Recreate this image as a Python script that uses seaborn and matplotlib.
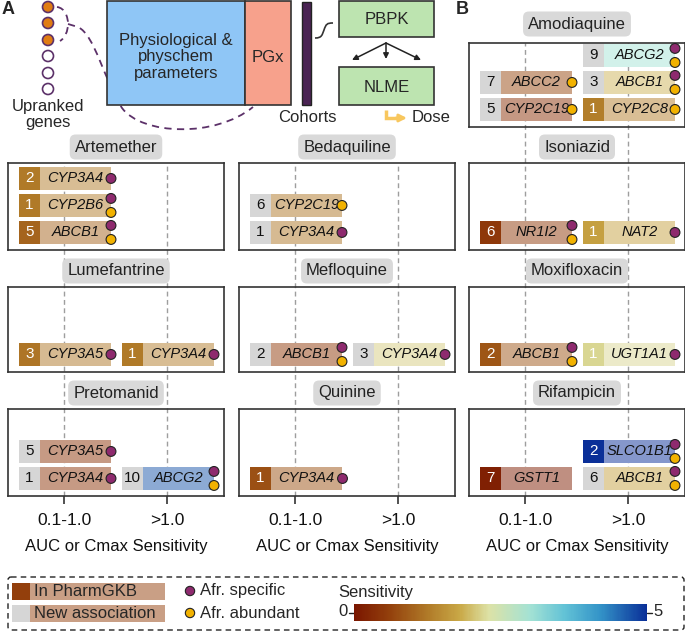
import numpy as np
import pandas as pd
import matplotlib
matplotlib.use("Agg")
import matplotlib as mpl
import matplotlib.pyplot as plt
import seaborn as sns
from matplotlib.colors import LinearSegmentedColormap, Normalize, to_rgb
from matplotlib.patches import Rectangle, FancyBboxPatch, Circle, PathPatch
from matplotlib.path import Path

sns.set_theme(style="white")
plt.rcParams['font.family'] = ['Liberation Sans', 'DejaVu Sans']

# ---------------- data ----------------
bins = ["0.1-1.0", ">1.0"]
drug = (["Artemether"] * 3 + ["Bedaquiline"] * 2 + ["Lumefantrine"] * 2 +
        ["Mefloquine"] * 2 + ["Pretomanid"] * 3 + ["Quinine"] +
        ["Amodiaquine"] * 5 + ["Isoniazid"] * 2 + ["Moxifloxacin"] * 2 +
        ["Rifampicin"] * 3)
sens_bin = [0, 0, 0, 0, 0, 0, 1, 0, 1, 0, 0, 1, 0,
            1, 0, 1, 0, 1, 0, 1, 0, 1, 0, 1, 1]
rank_slot = [2, 1, 0, 1, 0, 0, 0, 0, 0, 1, 0, 0, 0,
             2, 1, 1, 0, 0, 0, 0, 0, 0, 0, 1, 0]
gene = ["CYP3A4", "CYP2B6", "ABCB1", "CYP2C19", "CYP3A4", "CYP3A5", "CYP3A4",
        "ABCB1", "CYP3A4", "CYP3A5", "CYP3A4", "ABCG2", "CYP3A4",
        "ABCG2", "ABCC2", "ABCB1", "CYP2C19", "CYP2C8", "NR1I2", "NAT2",
        "ABCB1", "UGT1A1", "GSTT1", "SLCO1B1", "ABCB1"]
count = [2, 1, 5, 6, 1, 3, 1, 2, 3, 5, 1, 10, 1,
         9, 7, 3, 5, 1, 6, 1, 2, 1, 7, 2, 6]
in_pharmgkb = [1, 1, 1, 0, 0, 1, 1, 0, 0, 0, 0, 0, 1,
               0, 0, 0, 0, 1, 1, 1, 1, 1, 1, 1, 0]
afr_specific = [1, 1, 1, 0, 1, 1, 1, 1, 1, 1, 1, 1, 1,
                1, 0, 1, 0, 0, 1, 1, 1, 1, 0, 1, 1]
afr_abundant = [0, 1, 1, 1, 0, 0, 0, 1, 0, 0, 0, 1, 0,
                1, 1, 1, 1, 1, 1, 0, 1, 0, 0, 1, 1]
sensitivity = [1.25, 1.25, 1.0, 1.2, 1.2, 1.2, 1.25, 0.5, 2.1, 0.45, 0.45, 4.7, 0.8,
               3.0, 0.7, 1.9, 0.4, 1.3, 0.5, 1.7, 0.85, 2.2, 0.15, 5.0, 1.7]

df = pd.DataFrame(dict(drug=drug, bin=sens_bin, slot=rank_slot, gene=gene,
                       count=count, pgkb=in_pharmgkb, spec=afr_specific,
                       abund=afr_abundant, sens=sensitivity))

# ---------------- styling ----------------
cmap = LinearSegmentedColormap.from_list("sens", [
    (0.0, '#7a1600'), (0.12, '#93400c'), (0.25, '#b07a28'), (0.36, '#c9a846'),
    (0.46, '#dde2a6'), (0.6, '#a4e2d4'), (0.72, '#62c2d6'), (0.84, '#3494c8'),
    (1.0, '#0a2f98')])
norm = Normalize(0, 5)
GRAY = '#d6d6d6'
SPEC = '#8e2a6e'
ABUND = '#f2b200'
DARK = '#333333'


def light(c, f=0.5):
    r = np.array(to_rgb(c))
    return tuple(r * f + (1 - f))


W, H = 685, 631
fig = plt.figure(figsize=(6.85, 6.31), dpi=100)


def fax(x0, y0, x1, y1, **kw):
    return fig.add_axes([x0 / W, 1 - y1 / H, (x1 - x0) / W, (y1 - y0) / H], **kw)


col_x = [8, 239, 469]
col_w = 216
row_y = [(43, 127), (163, 250), (287, 372), (409, 496)]
panel_pos = {"Artemether": (0, 1), "Bedaquiline": (1, 1), "Amodiaquine": (2, 0),
             "Lumefantrine": (0, 2), "Mefloquine": (1, 2), "Isoniazid": (2, 1),
             "Pretomanid": (0, 3), "Quinine": (1, 3), "Moxifloxacin": (2, 2),
             "Rifampicin": (2, 3)}
XLIM = (-0.544, -0.544 + col_w / 103.0)
UNIT = 27.0
BAR_L, BAR_W, NUM_W, BAR_H = -0.437, 0.893, 0.204, 0.85

# background dashed guide lines per column
col_tops = [163, 163, 43]
for c in range(3):
    bg = fax(col_x[c], col_tops[c], col_x[c] + col_w, 496, zorder=0)
    bg.set_xlim(XLIM)
    bg.axis('off')
    for xv in range(len(bins)):
        bg.axvline(xv, color='#9e9e9e', lw=1.0, ls=(0, (3.5, 2.5)))

for name, (c, r) in panel_pos.items():
    y0, y1 = row_y[r]
    ax = fax(col_x[c], y0, col_x[c] + col_w, y1, zorder=2)
    ax.set_facecolor('none')
    sub = df[df.drug == name]
    dots = []
    for _, row in sub.iterrows():
        base = cmap(norm(row.sens))
        left = row.bin + BAR_L
        ax.barh(row.slot, BAR_W - NUM_W, left=left + NUM_W, height=BAR_H,
                color=light(base), edgecolor='none', zorder=2)
        ax.barh(row.slot, NUM_W, left=left, height=BAR_H,
                color=base if row.pgkb else GRAY, edgecolor='none', zorder=2)
        ax.text(left + NUM_W / 2, row.slot, str(row['count']), ha='center',
                va='center', fontsize=11,
                color='white' if row.pgkb else '#111111', zorder=3)
        ax.text(left + NUM_W + (BAR_W - NUM_W) / 2, row.slot, row.gene,
                ha='center', va='center', fontsize=10.5, style='italic',
                color='#111111', zorder=3)
        xe = left + BAR_W
        if row.spec and row.abund:
            dots += [(xe, row.slot + 0.26, 'spec'), (xe, row.slot - 0.26, 'abund')]
        elif row.spec:
            dots.append((xe, row.slot, 'spec'))
        elif row.abund:
            dots.append((xe, row.slot, 'abund'))
    if dots:
        dd = pd.DataFrame(dots, columns=['x', 'y', 'kind'])
        sns.scatterplot(data=dd, x='x', y='y', hue='kind',
                        palette={'spec': SPEC, 'abund': ABUND}, s=50,
                        edgecolor='#222222', linewidth=0.8, legend=False,
                        ax=ax, zorder=5, clip_on=False)
    ax.set_xlim(XLIM)
    ax.set_ylim(-0.65, -0.65 + (y1 - y0) / UNIT)
    ax.set_ylabel('')
    ax.set_yticks([])
    for sp in ax.spines.values():
        sp.set_visible(True)
        sp.set_color(DARK)
        sp.set_linewidth(1.2)
    off = 19 if r == 0 else 16
    ax.text(0.5, 1 + off / (y1 - y0), name, transform=ax.transAxes,
            ha='center', va='center', fontsize=12, color='#222222',
            bbox=dict(boxstyle='round,pad=0.3,rounding_size=0.35',
                      fc='#d9d9d9', ec='none'), zorder=6, clip_on=False)
    if r == 3:
        ax.set_xticks(range(len(bins)))
        ax.set_xticklabels(bins)
        ax.tick_params(axis='x', length=6, width=1.2, color=DARK, pad=6,
                       labelsize=12.5, labelcolor='#111111', bottom=True)
        ax.set_xlabel("AUC or Cmax Sensitivity", fontsize=12, labelpad=8,
                      color='#111111')
    else:
        ax.set_xticks([])
        ax.set_xlabel('')

# ---------------- overlay: diagram + legend ----------------
ov = fax(0, 0, W, H, zorder=1)
ov.set_facecolor('none')
ov.set_xlim(0, W)
ov.set_ylim(H, 0)
ov.axis('off')

PUR = '#5c3169'
ov.text(2, 10, "A", fontsize=13, fontweight='bold', ha='left', va='center')
ov.text(456, 10, "B", fontsize=13, fontweight='bold', ha='left', va='center')

for i, gy in enumerate([7, 23, 40, 56, 73, 89]):
    ov.add_patch(Circle((48, gy), 5.5, fc='#e07c12' if i < 3 else 'white',
                        ec=PUR, lw=1.2, zorder=4))
ov.text(48, 106, "Upranked", ha='center', va='center', fontsize=12)
ov.text(48, 122, "genes", ha='center', va='center', fontsize=12)

p1 = Path([(57, 7), (65, 8), (68, 17), (68, 24), (68, 31), (65, 38), (60, 41)],
          [Path.MOVETO] + [Path.CURVE4] * 6)
p2 = Path([(68, 24), (78, 27), (95, 35), (104, 80), (122, 108),
           (142, 135), (215, 138), (253, 107)],
          [Path.MOVETO, Path.LINETO] + [Path.CURVE4] * 6)
for p in (p1, p2):
    ov.add_patch(PathPatch(p, fc='none', ec=PUR, lw=1.3, ls=(0, (4, 3)), zorder=2))

ov.add_patch(Rectangle((107, 1), 138, 104, fc='#8fc6f6', ec=DARK, lw=1.2, zorder=3))
ov.add_patch(Rectangle((245, 1), 46, 104, fc='#f7a18c', ec=DARK, lw=1.2, zorder=3))
ov.text(176, 57, "Physiological &\nphyschem\nparameters", ha='center',
        va='center', fontsize=12, linespacing=1.12, zorder=5)
ov.text(268, 57, "PGx", ha='center', va='center', fontsize=12, zorder=5)
ov.add_patch(Rectangle((302, 2), 9, 103, fc='#4a2353', ec='#222222', lw=1.0, zorder=3))
ov.text(307, 118, "Cohorts", ha='center', va='center', fontsize=12)
sq = Path([(315, 38), (322, 38), (322, 35), (324, 30), (326, 24), (327, 23), (333, 23)],
          [Path.MOVETO] + [Path.CURVE4] * 6)
ov.add_patch(PathPatch(sq, fc='none', ec=DARK, lw=1.2))
ov.add_patch(Rectangle((339, 1), 95, 36, fc='#bde4b0', ec=DARK, lw=1.2, zorder=3))
ov.add_patch(Rectangle((339, 67), 95, 38, fc='#bde4b0', ec=DARK, lw=1.2, zorder=3))
ov.text(387, 20, "PBPK", ha='center', va='center', fontsize=12, zorder=5)
ov.text(387, 87, "NLME", ha='center', va='center', fontsize=12, zorder=5)
for tx, ty in [(352, 60), (386, 59), (421, 60)]:
    ov.annotate('', xy=(tx, ty), xytext=(386, 43),
                arrowprops=dict(arrowstyle='-|>', color='#222222', lw=1.1,
                                mutation_scale=8, shrinkA=0, shrinkB=0))
ov.plot([386, 386, 398], [110, 118, 118], color='#f8c75e', lw=2.5,
        solid_joinstyle='miter', solid_capstyle='butt')
ov.annotate('', xy=(407, 118), xytext=(396, 118),
            arrowprops=dict(arrowstyle='-|>', color='#f8c75e', lw=2.0,
                            mutation_scale=11, shrinkA=0, shrinkB=0))
ov.text(412, 118, "Dose", ha='left', va='center', fontsize=12)

# legend
ov.add_patch(FancyBboxPatch((8, 577), 676, 53, boxstyle='round,pad=0,rounding_size=3',
                            fc='none', ec='#222222', lw=1.0, ls=(0, (4, 3))))
leg_base = cmap(norm(0.6))
for yy, numc, lab in [(591, leg_base, "In PharmGKB"), (613, GRAY, "New association")]:
    ov.add_patch(Rectangle((12, yy - 8.5), 153, 17, fc=light(leg_base), ec='none'))
    ov.add_patch(Rectangle((12, yy - 8.5), 18, 17, fc=numc, ec='none'))
    ov.text(34, yy, lab, ha='left', va='center', fontsize=12)
ov.scatter([190, 190], [591, 613], s=45, c=[SPEC, ABUND], edgecolors='#222222',
           linewidths=0.8, zorder=5)
ov.text(200, 591, "Afr. specific", ha='left', va='center', fontsize=12)
ov.text(200, 613, "Afr. abundant", ha='left', va='center', fontsize=12)
ov.text(338, 592, "Sensitivity", ha='left', va='center', fontsize=12)
cax = fax(354, 604, 647, 621, zorder=3)
cb = mpl.colorbar.ColorbarBase(cax, cmap=cmap, norm=norm, orientation='horizontal')
cb.outline.set_visible(False)
cax.set_xticks([])
ov.plot([349, 354], [612.5, 612.5], color='#222222', lw=1.0)
ov.plot([647, 652], [612.5, 612.5], color='#222222', lw=1.0)
ov.text(348, 612, "0", ha='right', va='center', fontsize=12)
ov.text(653, 612, "5", ha='left', va='center', fontsize=12)

fig.savefig("out.png", dpi=100)
